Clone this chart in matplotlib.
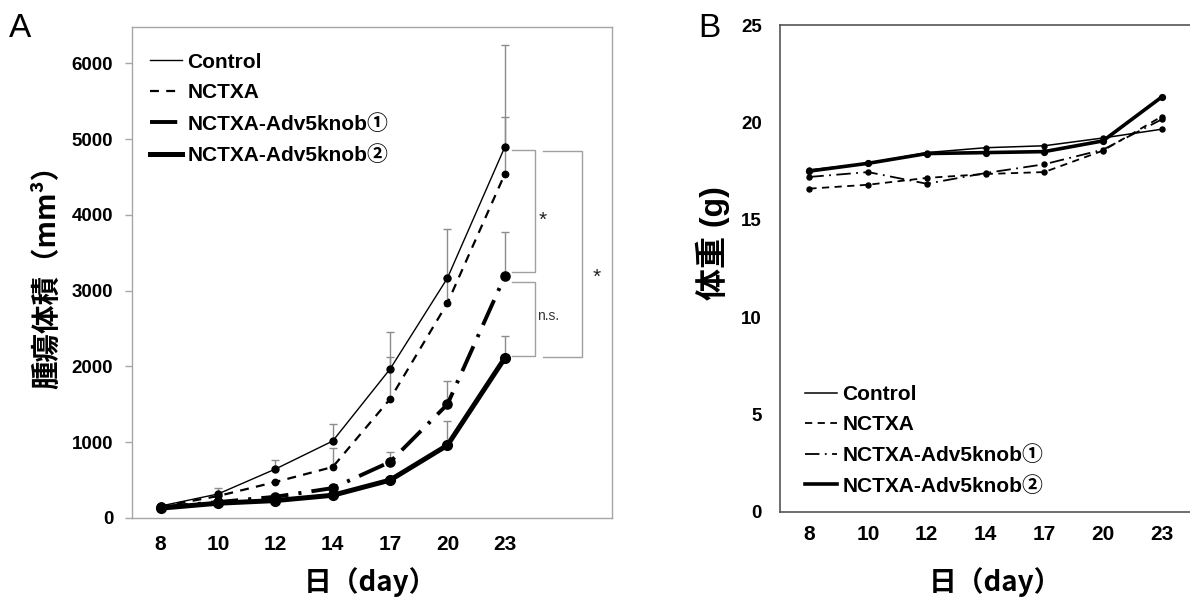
import numpy as np
import matplotlib
matplotlib.use("Agg")
import matplotlib.pyplot as plt

# ---------------- data ----------------
days = ["8", "10", "12", "14", "17", "20", "23"]
series_names = ["Control", "NCTXA", "NCTXA-Adv5knob①", "NCTXA-Adv5knob②"]

# Panel A: tumour volume (mm3), mean and upper SD
vol_control = [158, 317, 646, 1016, 1966, 3166, 4894]
vol_nctxa = [150, 290, 475, 673, 1570, 2836, 4538]
vol_knob1 = [140, 210, 280, 395, 740, 1500, 3190]
vol_knob2 = [130, 195, 230, 300, 500, 960, 2110]

err_control = [10, 80, 120, 225, 490, 650, 1345]
err_nctxa = [0, 0, 0, 250, 555, 330, 750]
err_knob1 = [0, 0, 0, 0, 130, 310, 585]
err_knob2 = [0, 0, 0, 0, 0, 320, 290]

# Panel B: body weight (g)
wt_control = [17.56, 17.9, 18.45, 18.7, 18.8, 19.2, 19.65]
wt_nctxa = [16.6, 16.8, 17.15, 17.35, 17.45, 18.55, 20.3]
wt_knob1 = [17.2, 17.45, 16.85, 17.4, 17.85, 18.6, 20.15]
wt_knob2 = [17.5, 17.9, 18.4, 18.45, 18.5, 19.05, 21.3]

yticks_a = [0, 1000, 2000, 3000, 4000, 5000, 6000]
yticks_b = [0, 5, 10, 15, 20, 25]

# ---------------- style ----------------
LAT = ["Liberation Sans", "Noto Sans CJK JP", "DejaVu Sans"]
CJK = ["Noto Sans CJK JP", "DejaVu Sans"]
plt.rcParams["font.family"] = LAT

W, H = 1190, 604
fig = plt.figure(figsize=(W / 100, H / 100), dpi=100)

ax_a = fig.add_axes([132 / W, 1 - 518 / H, 480 / W, 491 / H])
ax_b = fig.add_axes([780 / W, 1 - 512 / H, 411 / W, 487 / H])

x = np.arange(len(days))

styles_a = [
    dict(ls="-", lw=1.0, ms=5.0),
    dict(ls=(0, (4, 3.3)), lw=1.6, ms=4.6),
    dict(ls=(0, (7, 2.6, 0.8, 2.6)), lw=2.8, ms=6.6),
    dict(ls="-", lw=3.6, ms=7.0),
]
styles_b = [
    dict(ls="-", lw=1.1, ms=3.6),
    dict(ls=(0, (4, 3)), lw=1.3, ms=3.6),
    dict(ls=(0, (8, 3, 1, 3)), lw=1.3, ms=3.6),
    dict(ls="-", lw=2.6, ms=4.2),
]

vols = [vol_control, vol_nctxa, vol_knob1, vol_knob2]
errs = [err_control, err_nctxa, err_knob1, err_knob2]
wts = [wt_control, wt_nctxa, wt_knob1, wt_knob2]

# ---------------- panel A ----------------
for v, e in zip(vols, errs):
    v = np.asarray(v, float)
    e = np.asarray(e, float)
    _, caps, _ = ax_a.errorbar(x, v, yerr=[np.zeros_like(e), e], fmt="none",
                               ecolor="#8c8c8c", elinewidth=1.0, capsize=2.6,
                               capthick=1.0, zorder=1)
    if len(caps) > 1:
        caps[0].set_visible(False)

for name, v, st in zip(series_names, vols, styles_a):
    ax_a.plot(x, v, color="black", linestyle=st["ls"], linewidth=st["lw"],
              marker="o", markersize=st["ms"], label=name, zorder=3,
              dash_capstyle="butt")

ax_a.set_xlim(-0.5, 7.87)
ax_a.set_ylim(0, 6480)
ax_a.set_xticks(x)
ax_a.set_xticklabels(days)
ax_a.set_yticks(yticks_a)
for sp in ax_a.spines.values():
    sp.set_color("#a6a6a6")
    sp.set_linewidth(1.0)
ax_a.tick_params(axis="y", direction="out", length=5, width=1, color="#a6a6a6",
                 pad=8.5, labelsize=13.5)
ax_a.tick_params(axis="x", length=0, pad=12, labelsize=15)
for lab in ax_a.get_xticklabels() + ax_a.get_yticklabels():
    lab.set_fontweight("bold")

# significance brackets (anchored to the day-23 means)
bc = "#a0a0a0"
i23 = len(days) - 1
c23, k1_23, k2_23 = vol_control[i23], vol_knob1[i23], vol_knob2[i23]

def bracket(ax, x0, x1, ytop, ybot):
    ax.plot([x0, x1, x1, x0], [ytop, ytop, ybot, ybot], color=bc, lw=1.0,
            zorder=2, solid_joinstyle="miter")

bracket(ax_a, 6.13, 6.53, c23 - 40, k1_23 + 55)
bracket(ax_a, 6.13, 6.53, k1_23 - 75, k2_23 + 25)
bracket(ax_a, 6.66, 7.35, c23 - 50, k2_23 + 15)
ax_a.text(6.67, (c23 + k1_23) / 2 - 110, "*", fontsize=15, ha="center",
          va="center", color="#222222")
ax_a.text(6.76, (k1_23 + k2_23) / 2 + 10, "n.s.", fontsize=10, ha="center",
          va="center", color="#333333")
ax_a.text(7.61, 3170, "*", fontsize=15, ha="center", va="center",
          color="#222222")

leg_a = ax_a.legend(loc="upper left", bbox_to_anchor=(0.0375, 0.948),
                    frameon=False, borderpad=0, borderaxespad=0,
                    handlelength=1.55, handletextpad=0.25, labelspacing=0.56,
                    prop={"family": LAT, "weight": "bold", "size": 15})
for h in leg_a.get_lines():
    h.set_marker("")

ax_a.set_ylabel("腫瘍体積（mm³）", family=CJK, fontsize=20.5, fontweight="bold")
ax_a.yaxis.set_label_coords(-0.177, 0.505)
ax_a.yaxis.label.set_va("center")
ax_a.set_xlabel("日（day）", family=CJK, fontsize=20, fontweight="bold")
ax_a.xaxis.set_label_coords(0.496, -0.130)
ax_a.xaxis.label.set_va("center")

# ---------------- panel B ----------------
for name, w, st in zip(series_names, wts, styles_b):
    ax_b.plot(x, w, color="black", linestyle=st["ls"], linewidth=st["lw"],
              marker="o", markersize=st["ms"], label=name, zorder=3,
              dash_capstyle="butt")

ax_b.set_xlim(-0.5, 6.5)
ax_b.set_ylim(0, 25)
ax_b.set_xticks(x)
ax_b.set_xticklabels(days)
ax_b.set_yticks(yticks_b)
for k, sp in ax_b.spines.items():
    sp.set_color("#555555")
    sp.set_linewidth(1.2)
ax_b.tick_params(axis="y", length=0, pad=13, labelsize=13.5)
ax_b.tick_params(axis="x", length=0, pad=9.5, labelsize=15)
for lab in ax_b.get_xticklabels() + ax_b.get_yticklabels():
    lab.set_fontweight("bold")

leg_b = ax_b.legend(loc="upper left", bbox_to_anchor=(0.061, 0.260),
                    frameon=False, borderpad=0, borderaxespad=0,
                    handlelength=1.55, handletextpad=0.25, labelspacing=0.52,
                    prop={"family": LAT, "weight": "bold", "size": 15})
for h in leg_b.get_lines():
    h.set_marker("")

ax_b.set_ylabel("体重 (g)", family=LAT, fontsize=23, fontweight="bold")
ax_b.yaxis.set_label_coords(-0.163, 0.552)
ax_b.yaxis.label.set_va("center")
ax_b.set_xlabel("日（day）", family=CJK, fontsize=20, fontweight="bold")
ax_b.xaxis.set_label_coords(0.523, -0.144)
ax_b.xaxis.label.set_va("center")

# panel letters
fig.text(9 / W, 1 - 37 / H, "A", fontsize=24, va="baseline", ha="left")
fig.text(698 / W, 1 - 37 / H, "B", fontsize=24, va="baseline", ha="left")

fig.savefig("out.png", dpi=100)
